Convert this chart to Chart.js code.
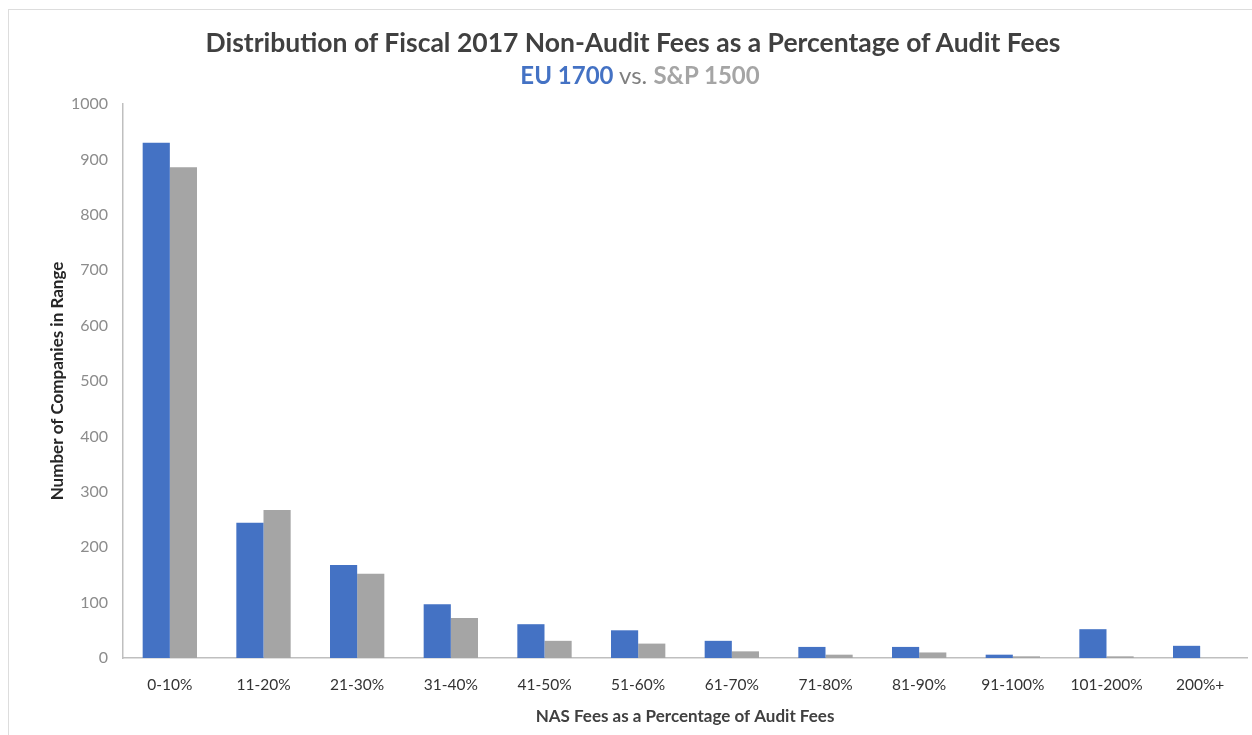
<!DOCTYPE html>
<html>
<head>
<meta charset="utf-8">
<script src="https://cdn.jsdelivr.net/npm/chart.js@4"></script>
<style>
  html, body { margin: 0; padding: 0; background: #fff; }
  #wrap { position: relative; width: 1252px; height: 735px; }
  #frame { position: absolute; left: 8px; top: 9px; right: 0; bottom: 0; border-left: 1px solid #ddd; border-top: 1px solid #ddd; }
  #title { position: absolute; left: 0; width: 1266px; top: 26px; text-align: center; font-family: Lato, sans-serif; font-weight: bold; font-size: 26.5px; color: #404040; }
  #sub { position: absolute; left: 0; width: 1280px; top: 60px; text-align: center; font-family: Lato, sans-serif; font-size: 24px; color: #a5a5a5; }
  #sub b.eu { color: #4472c4; }
  #sub b.sp { color: #a5a5a5; }
  #sub span { color: #7f7f7f; }
  canvas { position: absolute; left: 0; top: 0; }
</style>
</head>
<body>
<div id="wrap">
  <div id="frame"></div>
  <canvas id="feeChart" width="1252" height="735"></canvas>
  <div id="title">Distribution of Fiscal 2017 Non-Audit Fees as a Percentage of Audit Fees</div>
  <div id="sub"><b class="eu">EU 1700</b> <span>vs.</span> <b class="sp">S&amp;P 1500</b></div>
</div>
<script>
const ranges = ["0-10%","11-20%","21-30%","31-40%","41-50%","51-60%","61-70%","71-80%","81-90%","91-100%","101-200%","200%+"];
const eu1700 = [930,244,168,97,61,50,31,20,20,6,52,22];
const sp1500 = [886,267,152,72,31,26,12,6,10,3,3,0];

new Chart(document.getElementById("feeChart"), {
  type: "bar",
  data: {
    labels: ranges,
    datasets: [
      { label: "EU 1700", data: eu1700, backgroundColor: "#4472c4", categoryPercentage: 0.58, barPercentage: 1 },
      { label: "S&P 1500", data: sp1500, backgroundColor: "#a5a5a5", categoryPercentage: 0.58, barPercentage: 1 }
    ]
  },
  options: {
    responsive: false,
    animation: false,
    layout: { padding: { top: 104, right: 5, bottom: 8, left: 47 } },
    plugins: { legend: { display: false }, tooltip: { enabled: false } },
    scales: {
      x: {
        afterFit: s => { s.height = 69; },
        grid: { display: false, drawTicks: false },
        border: { color: "#bfbfbf", width: 1.5 },
        ticks: { color: "#333", font: { family: "Lato", size: 15.5 }, padding: 18 },
        title: { display: true, text: "NAS Fees as a Percentage of Audit Fees", color: "#404040", font: { family: "Lato", size: 17, weight: "bold" }, padding: { top: 10, bottom: 0 } }
      },
      y: {
        min: 0, max: 1000,
        afterFit: s => { s.width = 76; },
        grid: { display: false, drawTicks: false },
        border: { color: "#bfbfbf", width: 1.5 },
        ticks: { stepSize: 100, color: "#8c8c8c", font: { family: "Lato", size: 16 }, padding: 15, callback: v => String(v) },
        title: { display: true, text: "Number of Companies in Range", color: "#262626", font: { family: "Lato", size: 17, weight: "bold" }, padding: { top: 0, bottom: 5 } }
      }
    }
  }
});
</script>
</body>
</html>
